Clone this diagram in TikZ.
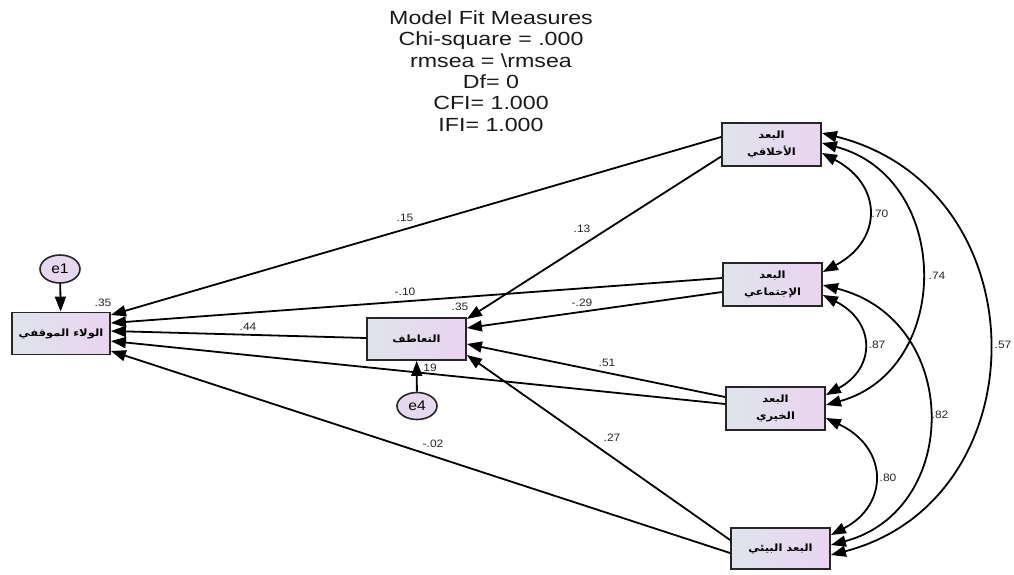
\documentclass[tikz,border=0pt]{standalone}
\usepackage{fontspec}
\setmainfont[FakeStretch=1.12]{Liberation Sans}
\newfontfamily\titlefont[FakeStretch=1.22]{Liberation Sans}
\newfontfamily\arabicfont[Script=Arabic,FakeStretch=1.15]{DejaVu Sans}
\TeXXeTstate=1
\usetikzlibrary{arrows.meta,shapes.geometric}
\definecolor{boxL}{HTML}{DFE4EC}
\definecolor{boxR}{HTML}{EAD4F0}
\definecolor{errF}{HTML}{E6D8EE}
\definecolor{edge}{HTML}{262626}
\tikzset{
  varbox/.style={draw=edge, line width=1.8pt, left color=boxL, right color=boxR,
    minimum width=99pt, minimum height=43pt, inner sep=0pt, align=center,
    font=\arabicfont\bfseries\fontsize{10}{17}\selectfont},
  errnode/.style={ellipse, draw=edge, line width=1.6pt, fill=errF, minimum width=40pt,
    minimum height=28pt, inner sep=0pt, font=\fontsize{14}{14}\selectfont},
  regpath/.style={line width=1.8pt, -{Triangle[length=15pt,width=11pt]}},
  covpath/.style={line width=1.8pt, {Triangle[length=15pt,width=11pt]}-{Triangle[length=15pt,width=11pt]}},
  lab/.style={font=\fontsize{10.7}{12}\selectfont, inner sep=0pt, text=black!85}
}
\begin{document}
\begin{tikzpicture}[x=1pt,y=-1pt]
\useasboundingbox (0,0) rectangle (1014,574);
% title
\node[align=center, font=\titlefont\fontsize{19}{21.3}\selectfont, text=black!90] (title) at (491,71)
  {Model Fit Measures\\Chi-square = .000\\rmsea = \textbackslash rmsea\\Df= 0\\CFI= 1.000\\IFI= 1.000};
% nodes
\node[varbox] (A) at (771.5,144.5) {\beginR البعد\endR\\\beginR الأخلاقي\endR};
\node[varbox] (B) at (772.5,284.5) {\beginR البعد\endR\\\beginR الإجتماعي\endR};
\node[varbox] (C) at (775.5,408.5) {\beginR البعد\endR\\\beginR الخيري\endR};
\node[varbox, minimum height=41pt] (D) at (780.5,548.5) {\beginR البعد البيئي\endR};
\node[varbox, minimum width=98pt, minimum height=42pt] (W) at (61,333.5) {\beginR الولاء الموقفي\endR};
\node[varbox, minimum height=42pt] (T) at (416.5,339) {\beginR التعاطف\endR};
\node[errnode] (e1) at (60,269) {e1};
\node[errnode, minimum height=27pt] (e4) at (417,406) {e4};
% error paths
\draw[regpath] (e1) -- (W);
\draw[regpath] (e4) -- (T);
% regression paths
\draw[regpath] ([yshift=7.5pt]A.west) -- ([yshift=18.5pt]W.east);
\draw[regpath] ([yshift=-12pt]A.west) -- ([yshift=20pt]T.east);
\draw[regpath] ([yshift=6.5pt]B.west) -- ([yshift=10.5pt]W.east);
\draw[regpath] ([yshift=-7.5pt]B.west) -- ([yshift=11pt]T.east);
\draw[regpath] ([yshift=1pt]T.west) -- ([yshift=2.5pt]W.east);
\draw[regpath] ([yshift=4.5pt]C.west) -- ([yshift=-7.5pt]W.east);
\draw[regpath] ([yshift=11.5pt]C.west) -- ([yshift=-5pt]T.east);
\draw[regpath] ([yshift=-4.5pt]D.west) -- ([yshift=-17.5pt]W.east);
\draw[regpath] ([yshift=8.5pt]D.west) -- ([yshift=-16pt]T.east);
% covariances
\draw[covpath] ([yshift=-8.5pt]A.east) .. controls +(61,32) and +(60,-32) .. ([yshift=12.5pt]B.east);
\draw[covpath] ([yshift=-10.5pt]B.east) .. controls +(53,27) and +(50,-27) .. ([yshift=13.5pt]C.east);
\draw[covpath] ([yshift=-9.5pt]C.east) .. controls +(63,30) and +(58,-30) .. ([yshift=13.5pt]D.east);
\draw[covpath] ([yshift=1.5pt]A.east) .. controls +(131,35) and +(127,-35) .. ([yshift=3.5pt]C.east);
\draw[covpath] ([yshift=-0.5pt]B.east) .. controls +(139,35) and +(131,-35) .. ([yshift=3.5pt]D.east);
\draw[covpath] ([yshift=11.5pt]A.east) .. controls +(220,55) and +(211,-55) .. ([yshift=-6.5pt]D.east);
% labels
\node[lab] (l1) at (405,218) {.15};
\node[lab] (l2) at (582,229) {.13};
\node[lab] (l3) at (405,292) {-.10};
\node[lab] (l4) at (582,303) {-.29};
\node[lab] (l5) at (248,327) {.44};
\node[lab] (l6) at (607,363) {.51};
\node[lab] (l7) at (433,444) {-.02};
\node[lab] (l8) at (612,438) {.27};
\node[lab] (l9) at (103,303) {.35};
\node[lab] (l10) at (460,307) {.35};
\node[lab] (l11) at (430,368) {19};
\node[lab] (c1) at (880,214) {.70};
\node[lab] (c2) at (937,276) {.74};
\node[lab] (c3) at (877,345) {.87};
\node[lab] (c4) at (1003,345) {.57};
\node[lab] (c5) at (940,415) {.82};
\node[lab] (c6) at (888,478) {.80};
\end{tikzpicture}
\end{document}
